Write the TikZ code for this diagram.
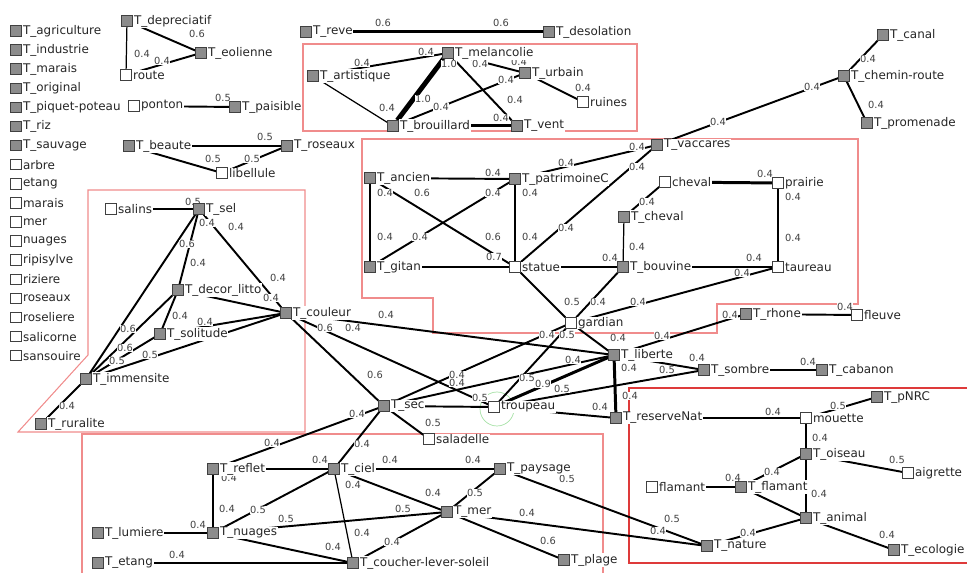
\documentclass[tikz,border=0pt]{standalone}
\usepackage{fontspec}
\setmainfont{DejaVu Sans}
\pgfdeclarelayer{back}
\pgfsetlayers{back,main}
\definecolor{boxred}{RGB}{240,140,140}
\definecolor{boxdark}{RGB}{222,58,58}
\definecolor{ringgreen}{RGB}{165,225,165}
\definecolor{sqgray}{RGB}{140,140,140}
\tikzset{every picture/.style={line width=0.75pt}}
\tikzset{
  gsq/.style={draw=black!75, fill=sqgray, line width=0.55pt, minimum size=0.21cm, inner sep=0pt, label distance=0.5pt},
  wsq/.style={gsq, fill=white},
  nl/.style={fill=white, inner sep=0.4pt, font=\fontsize{6.8}{7}\selectfont, text=black!85},
  wt/.style={fill=white, inner sep=0.2pt, font=\fontsize{5.6}{6}\selectfont, text=black!75},
  lnk/.style={line width=1.1pt},
  lnkthin/.style={line width=0.7pt},
  lnkthick/.style={line width=1.7pt},
  lnkheavy/.style={line width=2.8pt},
  zone/.style={draw=boxred, line width=0.6pt}
}

\begin{document}
\begin{tikzpicture}[x=0.02cm,y=-0.02cm]
    \path[use as bounding box] (0,0) rectangle (967,573);

    % edge weights
    \foreach \x/\y/\v [count=\i] in {197/34/0.6, 142/54/0.4, 162/61/0.4, 223/98/0.5, 265/137/0.5,
        213/159/0.5, 252/159/0.5, 383/23/0.6, 501/23/0.6,
        362/63/0.4, 426/52/0.4, 449/64/1.0, 480/64/0.4, 519/62/0.4, 506/80/0.4, 583/88/0.4,
        387/108/0.4, 423/99/1.0, 441/107/0.4, 515/100/0.4, 501/118/0.4,
        868/59/0.4, 812/87/0.4, 876/105/0.4, 718/122/0.4,
        493/173/0.4, 566/163/0.4, 637/147/0.4, 637/167/0.4, 385/193/0.4, 422/193/0.6,
        493/193/0.4, 530/193/0.4, 385/237/0.4, 420/237/0.4, 493/237/0.6, 530/237/0.4,
        566/228/0.4, 494/257/0.7, 610/258/0.4, 637/247/0.4, 647/202/0.4, 765/174/0.4,
        793/197/0.4, 793/238/0.4, 754/258/0.4, 742/273/0.4, 572/302/0.5, 598/302/0.4, 638/302/0.4,
        193/202/0.5, 207/223/0.4, 236/227/0.4, 187/244/0.6, 198/263/0.4, 278/278/0.4,
        271/298/0.4, 180/316/0.4, 205/322/0.4, 128/329/0.6, 125/348/0.6, 117/361/0.5,
        150/355/0.5, 67/406/0.4,
        386/315/0.4, 325/328/0.6, 353/328/0.4, 375/375/0.6, 547/335/0.4, 567/335/0.5,
        618/338/0.4, 662/336/0.4, 573/360/0.4, 457/375/0.4, 457/383/0.4, 527/378/0.5,
        543/384/0.9, 562/389/0.5, 480/398/0.5, 600/407/0.4, 629/368/0.4, 630/396/0.4,
        697/358/0.4, 667/370/0.5, 808/362/0.4, 730/315/0.4, 845/307/0.4, 357/414/0.4, 433/423/0.5,
        272/443/0.4, 362/444/0.4, 320/460/0.4, 390/460/0.4, 473/460/0.4, 229/478/0.4,
        353/485/0.4, 433/493/0.4, 475/493/0.5, 227/509/0.4, 258/510/0.5, 286/519/0.5,
        403/509/0.5, 198/525/0.4, 527/513/0.4, 567/479/0.5, 362/533/0.4, 392/542/0.4,
        333/547/0.4, 177/555/0.4, 548/541/0.6,
        773/412/0.4, 838/406/0.5, 820/438/0.4, 897/460/0.5, 772/472/0.4, 733/478/0.4,
        819/494/0.4, 748/533/0.4, 887/535/0.4, 672/519/0.5, 658/531/0.4}
        \node[wt] (w\i) at (\x,\y) {\v};

    % isolated terms
    \foreach \t/\s [count=\i] in {T\_agriculture/gsq, T\_industrie/gsq, T\_marais/gsq, T\_original/gsq,
        T\_piquet-poteau/gsq, T\_riz/gsq, T\_sauvage/gsq, arbre/wsq, etang/wsq, marais/wsq, mer/wsq,
        nuages/wsq, ripisylve/wsq, riziere/wsq, roseaux/wsq, roseliere/wsq, salicorne/wsq, sansouire/wsq}
        \node[\s, label={[nl]right:\t}] (leg\i) at (16,{31+19.1*(\i-1)}) {};

    \node[gsq, label={[nl]right:T\_depreciatif}] (depreciatif) at (127,21) {};
    \node[gsq, label={[nl]right:T\_eolienne}] (eolienne) at (201,53) {};
    \node[wsq, label={[nl]right:route}] (route) at (126,75) {};
    \node[wsq, label={[nl]right:ponton}] (ponton) at (134,106) {};
    \node[gsq, label={[nl]right:T\_paisible}] (paisible) at (235,107) {};
    \node[gsq, label={[nl]right:T\_beaute}] (beaute) at (129,146) {};
    \node[gsq, label={[nl]right:T\_roseaux}] (roseauxT) at (287,146) {};
    \node[wsq, label={[nl]right:libellule}] (libellule) at (222,173) {};
    \node[gsq, label={[nl]right:T\_reve}] (reve) at (306,32) {};
    \node[gsq, label={[nl]right:T\_desolation}] (desolation) at (549,32) {};

    \node[gsq, label={[nl]right:T\_melancolie}] (melancolie) at (448,53) {};
    \node[gsq, label={[nl]right:T\_artistique}] (artistique) at (313,76) {};
    \node[gsq, label={[nl]right:T\_urbain}] (urbain) at (525,73) {};
    \node[wsq, label={[nl]right:ruines}] (ruines) at (583,102) {};
    \node[gsq, label={[nl]right:T\_brouillard}] (brouillard) at (393,126) {};
    \node[gsq, label={[nl]right:T\_vent}] (vent) at (517,126) {};

    \node[gsq, label={[nl]right:T\_canal}] (canal) at (883,35) {};
    \node[gsq, label={[nl]right:T\_chemin-route}] (chemin) at (844,76) {};
    \node[gsq, label={[nl]right:T\_promenade}] (promenade) at (867,123) {};

    \node[gsq, label={[nl]right:T\_vaccares}] (vaccares) at (657,145) {};
    \node[gsq, label={[nl]right:T\_ancien}] (ancien) at (370,178) {};
    \node[gsq, label={[nl]right:T\_patrimoineC}] (patrimoine) at (515,179) {};
    \node[wsq, label={[nl]right:cheval}] (cheval) at (665,182) {};
    \node[wsq, label={[nl]right:prairie}] (prairie) at (778,183) {};
    \node[gsq, label={[nl]right:T\_cheval}] (chevalT) at (624,217) {};
    \node[gsq, label={[nl]right:T\_gitan}] (gitan) at (370,267) {};
    \node[wsq, label={[nl]right:statue}] (statue) at (515,267) {};
    \node[gsq, label={[nl]right:T\_bouvine}] (bouvine) at (623,267) {};
    \node[wsq, label={[nl]right:taureau}] (taureau) at (778,267) {};
    \node[wsq, label={[nl]right:gardian}] (gardian) at (571,323) {};

    \node[wsq, label={[nl]right:salins}] (salins) at (111,209) {};
    \node[gsq, label={[nl]right:T\_sel}] (sel) at (199,209) {};
    \node[gsq, label={[nl]right:T\_decor\_litto}] (decor) at (178,290) {};
    \node[gsq, label={[nl]right:T\_solitude}] (solitude) at (160,334) {};
    \node[gsq, label={[nl]right:T\_couleur}] (couleur) at (286,313) {};
    \node[gsq, label={[nl]right:T\_immensite}] (immensite) at (86,379) {};
    \node[gsq, label={[nl]right:T\_ruralite}] (ruralite) at (41,424) {};

    \node[gsq, label={[nl]right:T\_liberte}] (liberte) at (614,355) {};
    \node[gsq, label={[nl]right:T\_sombre}] (sombre) at (704,370) {};
    \node[gsq, label={[nl]right:T\_cabanon}] (cabanon) at (822,370) {};
    \node[gsq, label={[nl]right:T\_rhone}] (rhone) at (746,314) {};
    \node[wsq, label={[nl]right:fleuve}] (fleuve) at (857,315) {};
    \node[gsq, label={[nl]right:T\_reserveNat}] (reserve) at (616,418) {};
    \node[wsq, label={[nl]right:troupeau}] (troupeau) at (494,407) {};
    \node[gsq, label={[nl]right:T\_sec}] (sec) at (384,406) {};
    \node[wsq, label={[nl]right:saladelle}] (saladelle) at (429,439) {};

    \node[gsq, label={[nl]right:T\_reflet}] (reflet) at (213,469) {};
    \node[gsq, label={[nl]right:T\_ciel}] (ciel) at (334,469) {};
    \node[gsq, label={[nl]right:T\_paysage}] (paysage) at (500,469) {};
    \node[gsq, label={[nl]right:T\_lumiere}] (lumiere) at (98,533) {};
    \node[gsq, label={[nl]right:T\_nuages}] (nuagesT) at (213,533) {};
    \node[gsq, label={[nl]right:T\_mer}] (merT) at (447,512) {};
    \node[gsq, label={[nl]right:T\_etang}] (etangT) at (98,563) {};
    \node[gsq, label={[nl]right:T\_coucher-lever-soleil}] (coucher) at (353,563) {};
    \node[gsq, label={[nl]right:T\_plage}] (plage) at (564,560) {};

    \node[gsq, label={[nl]right:T\_pNRC}] (pNRC) at (877,397) {};
    \node[wsq, label={[nl]right:mouette}] (mouette) at (806,418) {};
    \node[gsq, label={[nl]right:T\_oiseau}] (oiseau) at (806,454) {};
    \node[wsq, label={[nl]right:aigrette}] (aigrette) at (908,473) {};
    \node[wsq, label={[nl]right:flamant}] (flamant) at (652,487) {};
    \node[gsq, label={[nl]right:T\_flamant}] (flamantT) at (741,487) {};
    \node[gsq, label={[nl]right:T\_animal}] (animal) at (806,518) {};
    \node[gsq, label={[nl]right:T\_nature}] (nature) at (707,546) {};
    \node[gsq, label={[nl]right:T\_ecologie}] (ecologie) at (894,550) {};

    \begin{pgfonlayer}{back}
        % clusters
        \draw[zone] (303,44) rectangle (637,131);
        \draw[zone] (362,139) -- (858,139) -- (858,304) -- (717,304) -- (717,333)
            -- (433,333) -- (433,298) -- (362,298) -- cycle;
        \draw[zone] (88,190) -- (305,190) -- (305,432) -- (18,432) -- (88,355) -- cycle;
        \draw[zone] (82,434) rectangle (603,580);
        \draw[boxdark, line width=1.3pt] (629,388) rectangle (975,563);
        \draw[ringgreen] (497,409) circle[radius=0.34cm];

        \draw[lnk] (depreciatif) -- (eolienne);
        \draw[lnkthin] (depreciatif) -- (route);
        \draw[lnk] (route) -- (eolienne);
        \draw[lnk] (ponton) -- (paisible);
        \draw[lnk] (beaute) -- (roseauxT);
        \draw[lnk] (beaute) -- (libellule);
        \draw[lnk] (libellule) -- (roseauxT);
        \draw[lnkthick] (reve) -- (desolation);

        \draw[lnk] (melancolie) -- (artistique);
        \draw[lnkheavy] (melancolie) -- (brouillard);
        \draw[lnk] (melancolie) -- (vent);
        \draw[lnk] (melancolie) -- (urbain);
        \draw[lnkthin] (artistique) -- (brouillard);
        \draw[lnk] (brouillard) -- (urbain);
        \draw[lnkthick] (brouillard) -- (vent);
        \draw[lnk] (urbain) -- (ruines);

        \draw[lnk] (canal) -- (chemin);
        \draw[lnk] (chemin) -- (promenade);
        \draw[lnk] (chemin) -- (vaccares);

        \draw[lnk] (vaccares) -- (patrimoine);
        \draw[lnk] (vaccares) -- (statue);
        \draw[lnk] (ancien) -- (patrimoine);
        \draw[lnk] (ancien) -- (gitan);
        \draw[lnk] (ancien) -- (statue);
        \draw[lnk] (patrimoine) -- (gitan);
        \draw[lnk] (patrimoine) -- (statue);
        \draw[lnkthick] (gitan) -- (statue);
        \draw[lnk] (statue) -- (bouvine);
        \draw[lnk] (statue) -- (gardian);
        \draw[lnkthin] (chevalT) -- (bouvine);
        \draw[lnk] (chevalT) -- (cheval);
        \draw[lnkthick] (cheval) -- (prairie);
        \draw[lnkthin] (prairie) -- (taureau);
        \draw[lnk] (bouvine) -- (taureau);
        \draw[lnk] (gardian) -- (taureau);
        \draw[lnk] (gardian) -- (bouvine);

        \draw[lnkthick] (salins) -- (sel);
        \draw[lnk] (sel) -- (decor);
        \draw[lnk] (sel) -- (couleur);
        \draw[lnk] (sel) -- (immensite);
        \draw[lnk] (decor) -- (couleur);
        \draw[lnk] (decor) -- (solitude);
        \draw[lnk] (decor) -- (immensite);
        \draw[lnk] (solitude) -- (couleur);
        \draw[lnk] (solitude) -- (immensite);
        \draw[lnk] (immensite) -- (couleur);
        \draw[lnk] (immensite) -- (ruralite);

        \draw[lnk] (couleur) -- (liberte);
        \draw[lnk] (couleur) -- (sec);
        \draw[lnk] (couleur) -- (troupeau);
        \draw[lnk] (sec) -- (troupeau);
        \draw[lnk] (sec) -- (gardian);
        \draw[lnk] (sec) -- (liberte);
        \draw[lnk] (sec) -- (saladelle);
        \draw[lnk] (sec) -- (reflet);
        \draw[lnk] (sec) -- (ciel);
        \draw[lnk] (gardian) -- (troupeau);
        \draw[lnk] (gardian) -- (liberte);
        \draw[lnkthick] (troupeau) -- (liberte);
        \draw[lnk] (troupeau) -- (sombre);
        \draw[lnk] (troupeau) -- (reserve);
        \draw[lnkthick] (liberte) -- (reserve);
        \draw[lnk] (liberte) -- (rhone);
        \draw[lnk] (liberte) -- (sombre);
        \draw[lnk] (rhone) -- (fleuve);
        \draw[lnkthick] (sombre) -- (cabanon);

        \draw[lnk] (reflet) -- (ciel);
        \draw[lnkthin] (reflet) -- (nuagesT);
        \draw[lnk] (ciel) -- (paysage);
        \draw[lnk] (ciel) -- (merT);
        \draw[lnkthin] (ciel) -- (coucher);
        \draw[lnk] (nuagesT) -- (ciel);
        \draw[lnk] (nuagesT) -- (merT);
        \draw[lnk] (nuagesT) -- (coucher);
        \draw[lnk] (lumiere) -- (nuagesT);
        \draw[lnk] (etangT) -- (coucher);
        \draw[lnk] (merT) -- (paysage);
        \draw[lnk] (merT) -- (coucher);
        \draw[lnk] (merT) -- (plage);
        \draw[lnk] (merT) -- (nature);
        \draw[lnk] (paysage) -- (nature);

        \draw[lnk] (reserve) -- (mouette);
        \draw[lnk] (mouette) -- (pNRC);
        \draw[lnkthin] (mouette) -- (oiseau);
        \draw[lnk] (oiseau) -- (aigrette);
        \draw[lnk] (oiseau) -- (flamantT);
        \draw[lnk] (oiseau) -- (animal);
        \draw[lnkthick] (flamant) -- (flamantT);
        \draw[lnk] (flamantT) -- (animal);
        \draw[lnk] (animal) -- (ecologie);
        \draw[lnk] (animal) -- (nature);
    \end{pgfonlayer}
\end{tikzpicture}
\end{document}
